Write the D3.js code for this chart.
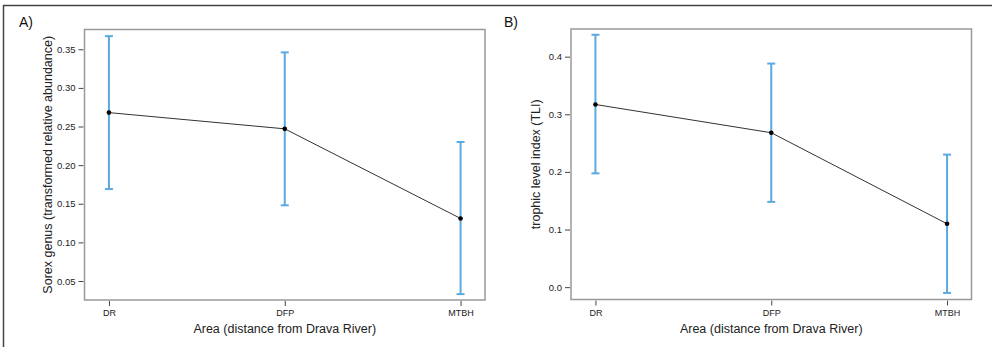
<!DOCTYPE html>
<html><head><meta charset="utf-8">
<script src="https://cdn.jsdelivr.net/npm/d3@7"></script>
<style>body{margin:0;background:#fff}svg{display:block}text{font-family:"Liberation Sans",Arial,sans-serif}</style>
</head><body><svg id="c" width="992" height="347"></svg>
<script>
const categories = ["DR", "DFP", "MTBH"];
const xTitle = "Area (distance from Drava River)";
// Panel A
const meanA = [0.268, 0.247, 0.131];
const lowA = [0.169, 0.148, 0.033];
const highA = [0.367, 0.346, 0.230];
const ticksA = [0.05, 0.10, 0.15, 0.20, 0.25, 0.30, 0.35];
// Panel B
const meanB = [0.317, 0.268, 0.110];
const lowB = [0.1975, 0.148, -0.010];
const highB = [0.438, 0.388, 0.230];
const ticksB = [0.0, 0.1, 0.2, 0.3, 0.4];

const svg = d3.select("#c");
svg.append("line").attr("x1",3).attr("x2",992).attr("y1",5.5).attr("y2",5.5).attr("stroke","#444").attr("stroke-width",1.5);
svg.append("line").attr("x1",3.5).attr("x2",3.5).attr("y1",5).attr("y2",347).attr("stroke","#444").attr("stroke-width",1.5);

function panel(o){
  const g = svg.append("g");
  const x = d3.scalePoint().domain(categories).range([o.left, o.right]).padding(0.139);
  const y = d3.scaleLinear().domain(o.domain).range([o.bottom, o.top]);
  g.append("text").attr("x",o.labelX).attr("y",27).attr("font-size",14).attr("fill","#111").text(o.label);
  const ya = g.append("g").attr("transform",`translate(${o.left-1},0)`)
    .call(d3.axisLeft(y).tickValues(o.ticks).tickSize(5).tickPadding(3).tickFormat(d3.format(o.fmt)));
  ya.select(".domain").remove();
  ya.selectAll("line").attr("stroke","#444");
  ya.selectAll("text").attr("font-size",9.5).attr("fill","#222").attr("font-family","Liberation Sans, Arial, sans-serif");
  const xa = g.append("g").attr("transform",`translate(0,${o.bottom+1})`)
    .call(d3.axisBottom(x).tickSize(5).tickPadding(4));
  xa.select(".domain").remove();
  xa.selectAll("line").attr("stroke","#444");
  xa.selectAll("text").attr("font-size",9).attr("fill","#222").attr("font-family","Liberation Sans, Arial, sans-serif");
  g.append("rect").attr("x",o.left).attr("y",o.top).attr("width",o.right-o.left).attr("height",o.bottom-o.top)
    .attr("fill","none").attr("stroke","#999").attr("stroke-width",1.5);
  g.append("text").attr("x",(o.left+o.right)/2).attr("y",333).attr("text-anchor","middle").attr("font-size",12.5).attr("fill","#222").text(xTitle);
  g.append("text").attr("transform",`translate(${o.ytX},${(o.top+o.bottom)/2}) rotate(-90)`).attr("text-anchor","middle")
    .attr("font-size",12.5).attr("fill","#222").text(o.yTitle);
  const eb = g.append("g").attr("stroke","#5aa9e0").attr("stroke-width",2);
  categories.forEach((c,i)=>{
    const cx = x(c);
    eb.append("line").attr("x1",cx).attr("x2",cx).attr("y1",y(o.low[i])).attr("y2",y(o.high[i]));
    eb.append("line").attr("x1",cx-4).attr("x2",cx+4).attr("y1",y(o.low[i])).attr("y2",y(o.low[i]));
    eb.append("line").attr("x1",cx-4).attr("x2",cx+4).attr("y1",y(o.high[i])).attr("y2",y(o.high[i]));
  });
  const line = d3.line().x((d,i)=>x(categories[i])).y(d=>y(d));
  g.append("path").attr("d",line(o.mean)).attr("fill","none").attr("stroke","#333").attr("stroke-width",1);
  g.selectAll("circle.pt").data(o.mean).enter().append("circle")
    .attr("cx",(d,i)=>x(categories[i])).attr("cy",d=>y(d)).attr("r",2.3).attr("fill","#000");
}

panel({left:84.5,right:485,top:29.5,bottom:300,domain:[0.0254,0.3756],ticks:ticksA,fmt:".2f",
  mean:meanA,low:lowA,high:highA,label:"A)",labelX:19,ytX:52,yTitle:"Sorex genus (transformed relative abundance)"});
panel({left:571,right:971.5,top:29,bottom:299.5,domain:[-0.0214,0.448],ticks:ticksB,fmt:".1f",
  mean:meanB,low:lowB,high:highB,label:"B)",labelX:504,ytX:539.5,yTitle:"trophic level index (TLI)"});
</script></body></html>
